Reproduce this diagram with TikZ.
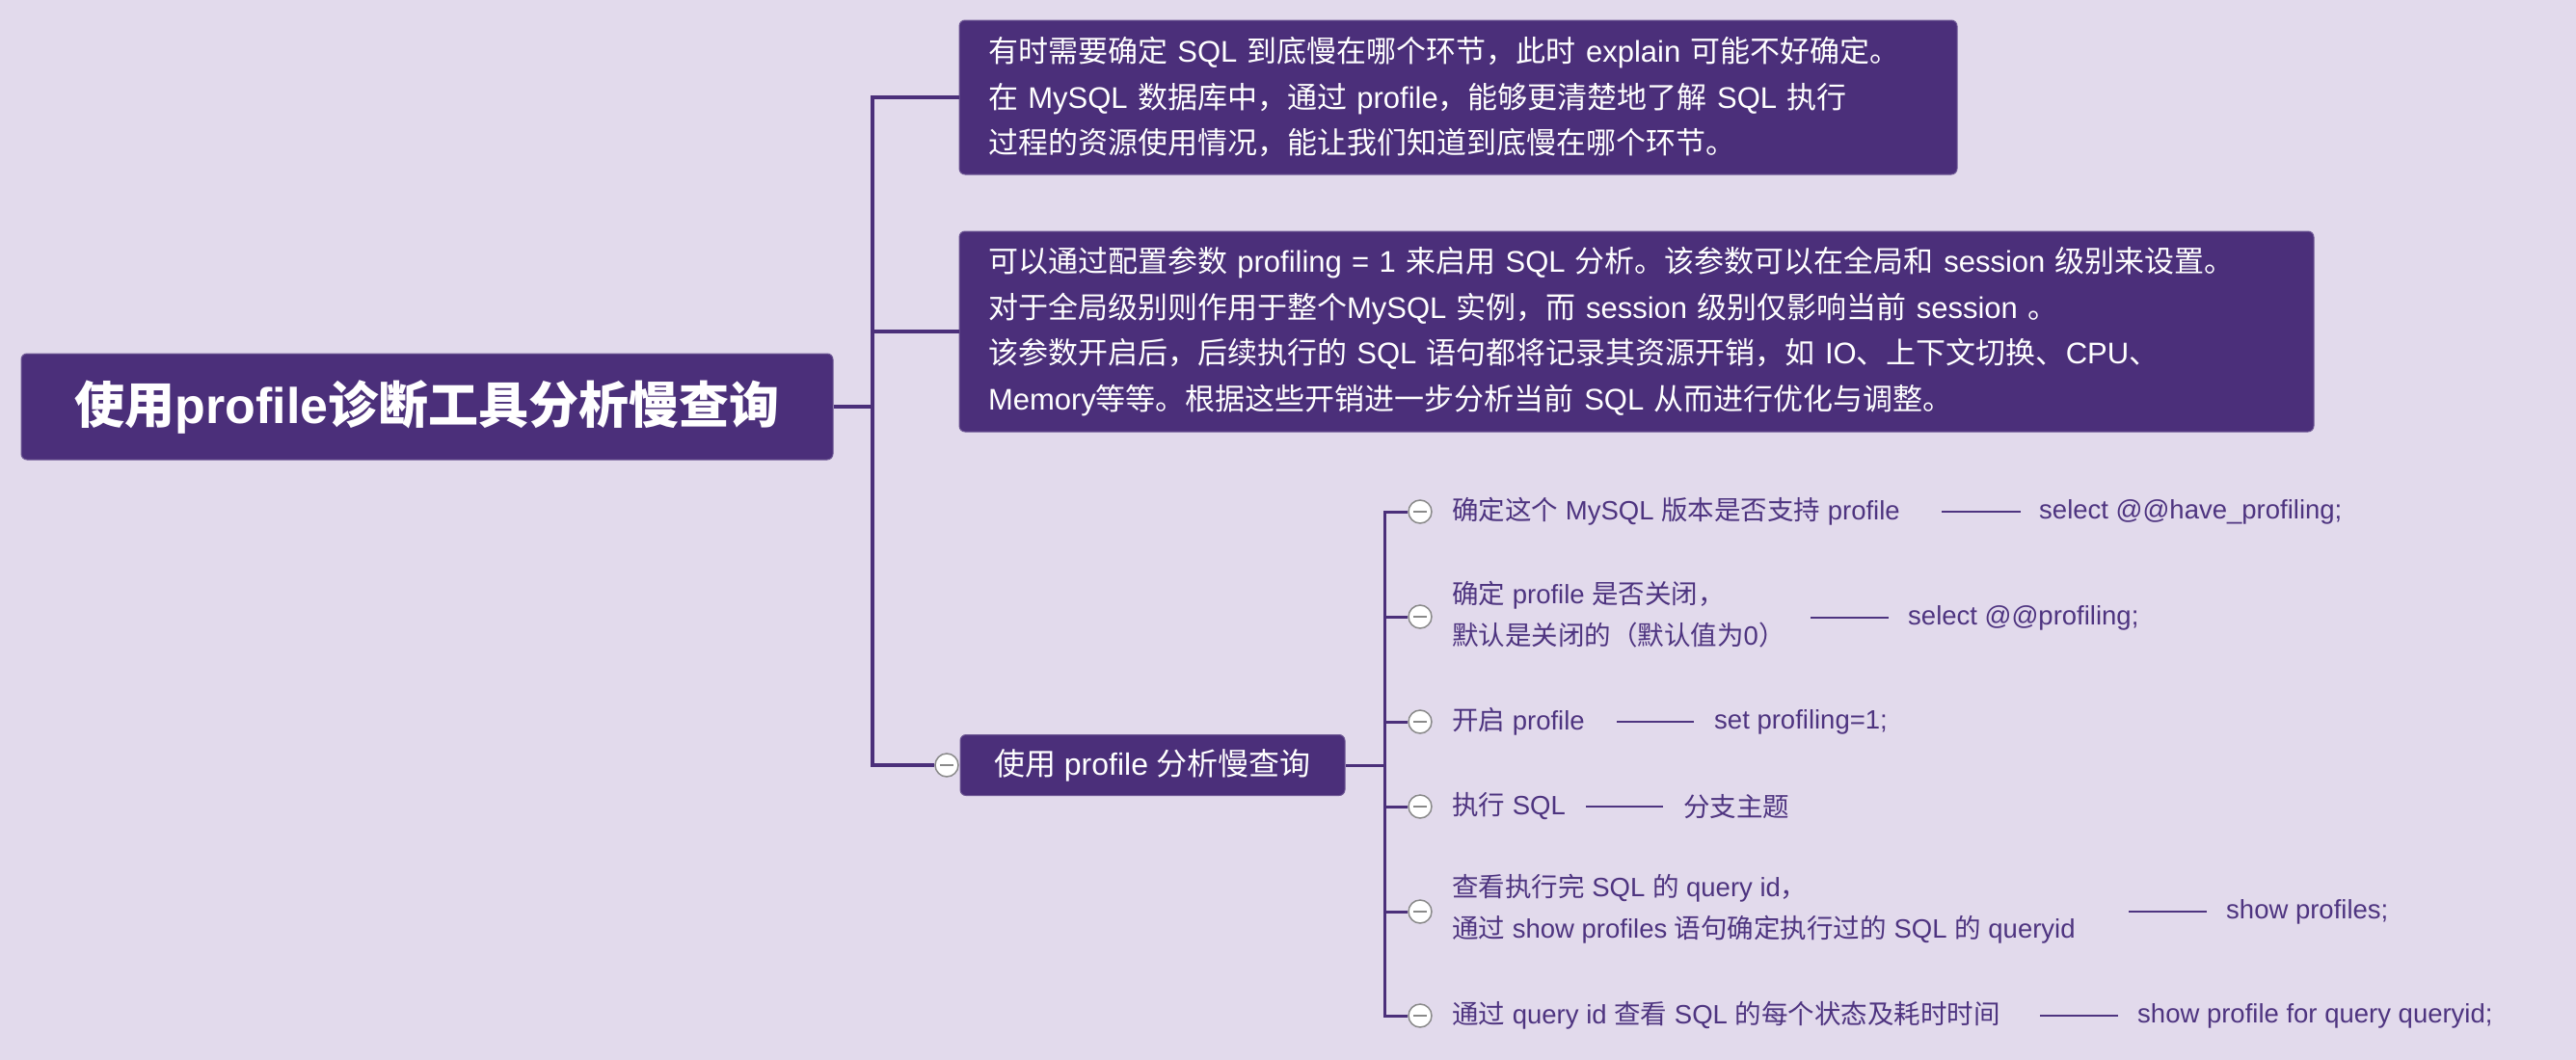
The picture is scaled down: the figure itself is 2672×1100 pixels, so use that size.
\documentclass[tikz,border=0pt]{standalone}
\usepackage{fontspec}
\setmainfont{Liberation Sans}
\newfontfamily\latinfont{Liberation Sans}
\newfontfamily\cjkfont{Noto Sans CJK SC}
\newXeTeXintercharclass\CJKcls
\makeatletter
\newcommand\mysetcjkrange[2]{\count@=#1\relax\loop\XeTeXcharclass\count@=\CJKcls\relax\ifnum\count@<#2\relax\advance\count@ by 1\relax\repeat}
\makeatother
\mysetcjkrange{"3000}{"303F}
\mysetcjkrange{"4E00}{"9FFF}
\mysetcjkrange{"FF00}{"FFEF}
\XeTeXinterchartoks 0 \CJKcls = {\cjkfont}
\XeTeXinterchartoks 4095 \CJKcls = {\cjkfont}
\XeTeXinterchartoks \CJKcls 0 = {\latinfont}
\XeTeXinterchartoks \CJKcls 4095 = {\latinfont}
\XeTeXinterchartokenstate=1
\definecolor{bg}{HTML}{E2DAEC}
\definecolor{pp}{HTML}{4B2F7A}
\definecolor{tx}{HTML}{4E3480}
\definecolor{cg}{HTML}{8A8A8A}
\tikzset{
  pbox/.style={fill=pp, draw=pp!80!white, line width=1pt, rounded corners=6pt, text=white, inner sep=0pt},
  circ/.style={circle, minimum size=24pt, inner sep=0pt, fill=white, draw=cg, line width=1.5pt,
    path picture={\draw[cg, line width=1.5pt] ([xshift=-7pt]path picture bounding box.center) -- ([xshift=7pt]path picture bounding box.center);}},
  ctext/.style={anchor=west, inner sep=0pt, text=tx, align=left, font=\fontsize{27.5}{43}\selectfont},
  mainline/.style={draw=pp, line width=3.5pt, line join=miter},
  subline/.style={draw=pp, line width=3pt, line join=miter},
  dl/.style={draw=tx, line width=2pt},
}
\begin{document}
\begin{tikzpicture}[x=1pt,y=-1pt]
\fill[bg] (0,0) rectangle (2672,1100);
\useasboundingbox (0,0) rectangle (2672,1100);
\coordinate (tr) at (905,0);
\coordinate (tr2) at (1436,0);

\node[pbox, minimum width=842pt, minimum height=110pt, font=\fontsize{52}{60}\selectfont\bfseries] (root) at (443,422) {使用profile诊断工具分析慢查询};

\node[pbox, minimum width=1035pt, minimum height=160pt, text width=975pt, inner xsep=30pt, align=left, font=\fontsize{31}{47.5}\selectfont] (b1) at (1512.5,101) {有时需要确定 SQL 到底慢在哪个环节，此时 explain 可能不好确定。\\在 MySQL 数据库中，通过 profile，能够更清楚地了解 SQL 执行\\过程的资源使用情况，能让我们知道到底慢在哪个环节。};

\node[pbox, minimum width=1405pt, minimum height=208pt, text width=1345pt, inner xsep=30pt, align=left, font=\fontsize{31}{47.5}\selectfont] (b2) at (1697.5,344) {可以通过配置参数 profiling = 1 来启用 SQL 分析。该参数可以在全局和 session 级别来设置。\\对于全局级别则作用于整个MySQL 实例，而 session 级别仅影响当前 session 。\\该参数开启后，后续执行的 SQL 语句都将记录其资源开销，如 IO、上下文切换、CPU、\\Memory等等。根据这些开销进一步分析当前 SQL 从而进行优化与调整。};

\node[pbox, minimum width=399pt, minimum height=63pt, font=\fontsize{32}{40}\selectfont] (sub) at (1195.5,794) {使用 profile 分析慢查询};
\node[circ] (c0) at (982,794) {};

\draw[mainline] (root.east) -- (root.east -| tr);
\draw[mainline] (b1.west) -- (b1.west -| tr) -- (c0.west -| tr) -- (c0.west);
\draw[mainline] (b2.west) -- (b2.west -| tr);

% children
\node[circ] (k1) at (1473,531) {};
\node[circ] (k2) at (1473,640) {};
\node[circ] (k3) at (1473,749) {};
\node[circ] (k4) at (1473,837) {};
\node[circ] (k5) at (1473,946) {};
\node[circ] (k6) at (1473,1054) {};

\draw[subline] (sub.east) -- (sub.east -| tr2);
\draw[subline] (k1.west) -- (k1.west -| tr2) -- (k6.west -| tr2) -- (k6.west);
\foreach \k in {k2,k3,k4,k5} \draw[subline] (\k.west) -- (\k.west -| tr2);

\node[ctext] (t1) at (1506,531) {确定这个 MySQL 版本是否支持 profile};
\node[ctext] (t2) at (1506,638) {确定 profile 是否关闭，\\默认是关闭的（默认值为0）};
\node[ctext] (t3) at (1506,749) {开启 profile};
\node[ctext] (t4) at (1506,837) {执行 SQL};
\node[ctext] (t5) at (1506,943) {查看执行完 SQL 的 query id，\\通过 show profiles 语句确定执行过的 SQL 的 queryid};
\node[ctext] (t6) at (1506,1054) {通过 query id 查看 SQL 的每个状态及耗时时间};

\node[ctext] (s1) at (2115,531) {select @@have\_profiling;};
\node[ctext] (s2) at (1979,641) {select @@profiling;};
\node[ctext] (s3) at (1778,749) {set profiling=1;};
\node[ctext] (s4) at (1746,837) {分支主题};
\node[ctext] (s5) at (2309,946) {show profiles;};
\node[ctext] (s6) at (2217,1054) {show profile for query queryid;};

\draw[dl] ([xshift=-19pt]s1.west) -- ++(-82,0);
\draw[dl] ([xshift=-20pt]s2.west) -- ++(-81,0);
\draw[dl] ([xshift=-21pt]s3.west) -- ++(-80,0);
\draw[dl] ([xshift=-21pt]s4.west) -- ++(-80,0);
\draw[dl] ([xshift=-20pt]s5.west) -- ++(-81,0);
\draw[dl] ([xshift=-20pt]s6.west) -- ++(-81,0);
\end{tikzpicture}
\end{document}
